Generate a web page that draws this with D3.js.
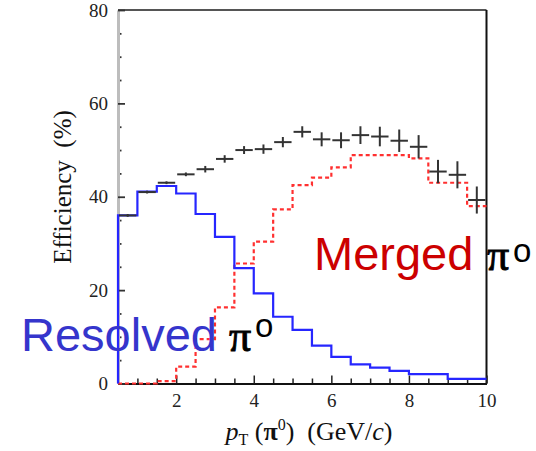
<!DOCTYPE html>
<html>
<head>
<meta charset="utf-8">
<script src="https://cdn.jsdelivr.net/npm/d3@7"></script>
<style>
  html, body { margin: 0; padding: 0; background: #fff; }
  svg { display: block; }
</style>
</head>
<body>
<svg id="chart" width="536" height="451"></svg>
<script>
// pT bins (GeV/c), 0.5 wide, lower edges
const binLow = [0.5, 1.0, 1.5, 2.0, 2.5, 3.0, 3.5, 4.0, 4.5, 5.0, 5.5, 6.0, 6.5, 7.0, 7.5, 8.0, 8.5, 9.0, 9.5];
const binWidth = 0.5;

// total pi0 efficiency (%) with statistical errors
const totalEff = [36.0, 41.0, 43.0, 44.8, 45.9, 48.1, 50.0, 50.2, 51.7, 53.9, 52.3, 52.1, 53.2, 52.9, 52.0, 50.7, 45.4, 44.7, 39.3];
const totalErr = [0.3, 0.3, 0.3, 0.4, 0.7, 0.8, 0.85, 1.0, 1.1, 1.2, 1.5, 1.7, 1.9, 2.1, 2.4, 2.5, 2.5, 2.9, 2.9];

// resolved (two separate photons) efficiency (%)
const resolvedEff = [36.0, 41.1, 42.3, 40.7, 36.3, 31.4, 24.7, 19.3, 14.3, 11.5, 8.1, 5.7, 4.1, 3.4, 2.7, 2.0, 2.0, 1.0, 1.0];

// merged (single cluster) efficiency (%)
const mergedEff = [0.0, 0.0, 0.5, 3.6, 9.5, 16.3, 25.7, 30.4, 37.3, 42.5, 44.1, 46.3, 48.9, 48.9, 48.9, 48.2, 43.0, 43.0, 38.0];

const xTicksMajor = [2, 4, 6, 8, 10];
const yTicksMajor = [0, 20, 40, 60, 80];

const svg = d3.select("#chart");
const x = d3.scaleLinear().domain([0.5, 10]).range([118, 486.5]);
const y = d3.scaleLinear().domain([0, 80]).range([383.5, 10]);

const serif = "'Liberation Serif', 'Times New Roman', serif";
const sans = "'Liberation Sans', Arial, sans-serif";

// frame: top and right edges
svg.append("line")
  .attr("x1", x(0.5)).attr("x2", x(10)).attr("y1", y(80)).attr("y2", y(80))
  .attr("stroke", "#555").attr("stroke-width", 2);
svg.append("line")
  .attr("x1", x(10)).attr("x2", x(10)).attr("y1", y(80)).attr("y2", y(0))
  .attr("stroke", "#111").attr("stroke-width", 2);

// x axis: minor ticks every 0.5, major (labelled) every 2
const xMinor = d3.range(1, 10.01, 0.5).filter(v => !xTicksMajor.includes(v));
const gxMinor = svg.append("g").attr("transform", `translate(0,${y(0)})`)
  .call(d3.axisBottom(x).tickValues(xMinor).tickSize(-5).tickFormat(""));
gxMinor.select(".domain").remove();
gxMinor.selectAll("line").attr("stroke", "#222").attr("stroke-width", 1.5);

const gx = svg.append("g").attr("transform", `translate(0,${y(0)})`)
  .call(d3.axisBottom(x).tickValues(xTicksMajor).tickSizeInner(-8).tickSizeOuter(0).tickPadding(10).tickFormat(d3.format("d")));
gx.select(".domain").attr("stroke", "#111").attr("stroke-width", 2);
gx.selectAll("line").attr("stroke", "#222").attr("stroke-width", 1.5);
gx.selectAll("text").attr("font-family", serif).attr("font-size", 19).attr("fill", "#222");

// y axis: minor ticks every 5, labelled every 20
const yMinor = d3.range(5, 80, 5).filter(v => !yTicksMajor.includes(v));
const gyMinor = svg.append("g").attr("transform", `translate(${x(0.5)},0)`)
  .call(d3.axisLeft(y).tickValues(yMinor).tickSize(-3.5).tickFormat(""));
gyMinor.select(".domain").remove();
gyMinor.selectAll("line").attr("stroke", "#333").attr("stroke-width", 1.8);

const gy = svg.append("g").attr("transform", `translate(${x(0.5)},0)`)
  .call(d3.axisLeft(y).tickValues(yTicksMajor).tickSizeInner(-7).tickSizeOuter(0).tickPadding(10).tickFormat(d3.format("d")));
gy.select(".domain").attr("stroke", "#bdbdbd").attr("stroke-width", 3);
gy.selectAll("line").attr("stroke", "#333").attr("stroke-width", 1.8);
gy.selectAll("text").attr("font-family", serif).attr("font-size", 19).attr("fill", "#222");

// histogram outline built from bin edges
function stepPoints(values) {
  const pts = [[binLow[0], 0]];
  values.forEach((v, i) => {
    pts.push([binLow[i], v]);
    pts.push([binLow[i] + binWidth, v]);
  });
  return pts;
}
const stepLine = d3.line().x(d => x(d[0])).y(d => y(d[1]));

svg.append("path")
  .attr("d", stepLine(stepPoints(mergedEff)))
  .attr("fill", "none").attr("stroke", "#ff3030").attr("stroke-width", 2.2)
  .attr("stroke-dasharray", "4,3");

svg.append("path")
  .attr("d", stepLine(stepPoints(resolvedEff)))
  .attr("fill", "none").attr("stroke", "#2626ff").attr("stroke-width", 2.2);

// total efficiency points: bin-width bars with vertical error bars
const pts = svg.append("g").attr("stroke", "#333").attr("stroke-width", 2);
binLow.forEach((lo, i) => {
  const c = lo + binWidth / 2;
  pts.append("line")
    .attr("x1", x(lo) + 1).attr("x2", x(lo + binWidth) - 1)
    .attr("y1", y(totalEff[i])).attr("y2", y(totalEff[i]));
  pts.append("line")
    .attr("x1", x(c)).attr("x2", x(c))
    .attr("y1", y(totalEff[i] - totalErr[i])).attr("y2", y(totalEff[i] + totalErr[i]));
});

// axis titles
svg.append("text")
  .attr("transform", "translate(71,187) rotate(-90)")
  .attr("text-anchor", "middle")
  .attr("font-family", serif).attr("font-size", 25).attr("fill", "#111")
  .text("Efficiency\u00a0\u00a0(%)");

const xt = svg.append("text")
  .attr("x", 309).attr("y", 440)
  .attr("text-anchor", "middle")
  .attr("font-family", serif).attr("font-size", 26).attr("fill", "#111");
xt.append("tspan").attr("font-style", "italic").text("p");
xt.append("tspan").attr("font-size", 16).attr("dy", 5).text("T");
xt.append("tspan").attr("dy", -5).text(" (");
xt.append("tspan").attr("font-weight", "bold").text("\u03c0");
xt.append("tspan").attr("font-size", 16).attr("dy", -10).text("0");
xt.append("tspan").attr("dy", 10).text(")\u00a0\u00a0(GeV/");
xt.append("tspan").attr("font-style", "italic").text("c");
xt.append("tspan").text(")");

// category labels (pi glyph given a thin outline for weight)
function piLabel(px, py, ox, oy) {
  svg.append("text").attr("x", px).attr("y", py)
    .attr("font-family", serif).attr("font-size", 44).attr("fill", "#000")
    .attr("stroke", "#000").attr("stroke-width", 0.9)
    .text("\u03c0");
  svg.append("text").attr("x", ox).attr("y", oy)
    .attr("font-family", sans).attr("font-size", 33).attr("fill", "#000")
    .text("o");
}

svg.append("text").attr("x", 314).attr("y", 270)
  .attr("font-family", sans).attr("font-size", 47).attr("fill", "#cc0000")
  .text("Merged");
piLabel(487, 270, 513, 262);

svg.append("text").attr("x", 21).attr("y", 351)
  .attr("font-family", sans).attr("font-size", 47).attr("fill", "#3535cc")
  .text("Resolved");
piLabel(229, 351, 255, 337);
</script>
</body>
</html>
